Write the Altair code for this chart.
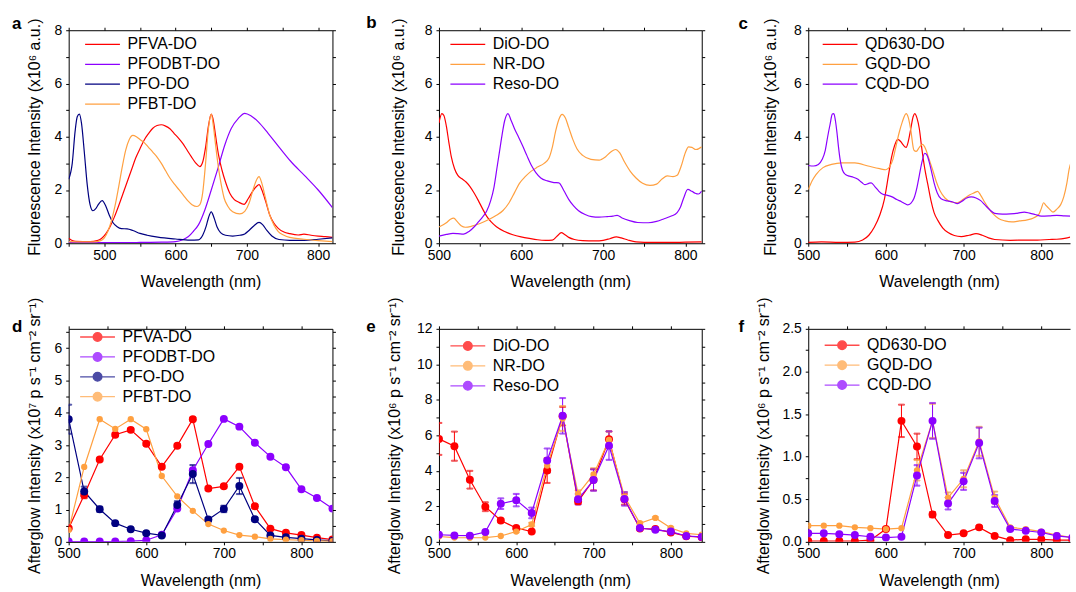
import altair as alt
import pandas as pd

FONT = "Liberation Sans"
RED = "#FF0000"
PURPLE = "#8C00FF"
NAVY = "#000080"
ORANGE = "#FFA040"

# ---------------- panel a : fluorescence spectra ----------------
a_names = ["PFVA-DO", "PFODBT-DO", "PFO-DO", "PFBT-DO"]
a_pfva_wl = [450, 455, 460, 480, 490, 496, 502, 508, 514, 520, 526, 532, 538, 544, 550, 556, 562, 568, 574, 580,
             586, 592, 598, 604, 610, 616, 622, 628, 634, 638, 642, 646, 650, 653, 656, 660, 665, 670, 676, 682,
             688, 696, 702, 708, 713, 717, 721, 726, 732, 738, 744, 752, 760, 772, 780, 790, 800, 810, 820]
a_pfva_v = [0.19, 0.10, 0.07, 0.06, 0.10, 0.18, 0.35, 0.62, 0.98, 1.40, 1.85, 2.30, 2.75, 3.20, 3.55, 3.88, 4.12, 4.32, 4.42, 4.45,
            4.40, 4.30, 4.12, 3.95, 3.75, 3.50, 3.25, 3.02, 2.88, 3.05, 3.60, 4.40, 4.85, 4.60, 4.05, 3.35, 2.75, 2.30, 1.88, 1.65,
            1.55, 1.46, 1.68, 1.95, 2.12, 2.20, 2.00, 1.60, 1.06, 0.75, 0.56, 0.42, 0.36, 0.31, 0.34, 0.30, 0.27, 0.25, 0.22]
a_pfodbt_wl = [450, 500, 550, 580, 600, 610, 618, 625, 632, 641, 650, 660, 669, 678, 688, 697, 706, 716, 730, 744,
               762, 781, 800, 820]
a_pfodbt_v = [0.03, 0.02, 0.03, 0.04, 0.06, 0.13, 0.25, 0.45, 0.69, 1.25, 2.00, 2.87, 3.69, 4.31, 4.69, 4.88, 4.78, 4.56, 4.12, 3.65,
              3.06, 2.54, 2.00, 1.34]
a_pfo_wl = [450, 455, 459, 462, 465, 468, 472, 476, 480, 484, 488, 492, 497, 502, 507, 512, 518, 524, 532, 540,
            550, 560, 575, 600, 620, 632, 638, 643, 646, 650, 654, 658, 663, 670, 680, 690, 697, 703, 710, 717,
            722, 728, 735, 745, 760, 780, 800, 820]
a_pfo_v = [2.40, 3.00, 4.20, 4.75, 4.85, 4.50, 3.40, 2.20, 1.45, 1.22, 1.30, 1.47, 1.60, 1.40, 1.05, 0.78, 0.62, 0.55, 0.54, 0.48,
           0.37, 0.30, 0.23, 0.16, 0.12, 0.13, 0.30, 0.65, 0.95, 1.18, 0.95, 0.62, 0.40, 0.30, 0.27, 0.30, 0.35, 0.48, 0.66, 0.78,
           0.70, 0.48, 0.27, 0.14, 0.11, 0.11, 0.15, 0.20]
a_pfbt_wl = [450, 470, 485, 495, 500, 505, 510, 515, 520, 525, 530, 535, 540, 545, 550, 556, 562, 568, 575, 580,
             586, 592, 599, 605, 611, 617, 623, 630, 634, 638, 642, 646, 650, 653, 656, 660, 664, 668, 673, 680,
             690, 697, 703, 708, 713, 717, 721, 726, 732, 738, 744, 752, 760, 780, 800, 820]
a_pfbt_v = [0.06, 0.05, 0.05, 0.10, 0.20, 0.45, 0.85, 1.40, 2.10, 2.85, 3.50, 3.90, 4.05, 4.00, 3.90, 3.78, 3.60, 3.42, 3.20, 3.00,
            2.72, 2.45, 2.20, 2.00, 1.80, 1.60, 1.45, 1.38, 1.45, 1.90, 3.00, 4.30, 4.85, 4.40, 3.70, 2.85, 2.20, 1.70, 1.40, 1.18,
            1.10, 1.20, 1.50, 1.95, 2.35, 2.50, 2.25, 1.70, 1.06, 0.68, 0.44, 0.30, 0.22, 0.15, 0.10, 0.06]

# ---------------- panel b ----------------
b_names = ["DiO-DO", "NR-DO", "Reso-DO"]
b_dio_wl = [500, 503.5, 506, 509, 512, 515, 519, 523, 528, 533, 538, 543, 548, 553, 558, 563, 570, 580, 590, 600,
            610, 620, 630, 638, 644, 649, 653, 658, 665, 675, 690, 700, 708, 716, 722, 730, 740, 760, 780, 800, 820]
b_dio_v = [4.52, 4.87, 4.80, 4.40, 3.80, 3.25, 2.80, 2.55, 2.42, 2.30, 2.12, 1.88, 1.60, 1.30, 1.02, 0.82, 0.62, 0.44, 0.32, 0.24,
           0.18, 0.13, 0.11, 0.12, 0.27, 0.40, 0.33, 0.22, 0.14, 0.10, 0.09, 0.11, 0.17, 0.24, 0.20, 0.12, 0.05, 0.03, 0.03, 0.04, 0.05]
b_nr_wl = [500, 509, 514, 518, 522, 527, 532, 540, 550, 560, 570, 578, 585, 592, 598, 605, 612, 620, 628, 634,
           638, 642, 646, 650, 654, 658, 663, 668, 675, 685, 695, 703, 710, 715, 720, 726, 733, 740, 748, 757,
           765, 772, 778, 785, 790, 795, 800, 804, 808, 813, 820]
b_nr_v = [0.61, 0.77, 0.90, 0.94, 0.82, 0.66, 0.60, 0.64, 0.74, 0.88, 1.05, 1.23, 1.50, 1.90, 2.25, 2.50, 2.70, 2.86, 3.00, 3.20,
          3.60, 4.20, 4.65, 4.84, 4.70, 4.35, 3.90, 3.55, 3.30, 3.15, 3.12, 3.25, 3.45, 3.52, 3.40, 3.05, 2.70, 2.45, 2.25, 2.17,
          2.22, 2.42, 2.53, 2.50, 2.55, 2.90, 3.40, 3.62, 3.60, 3.52, 3.62]
b_reso_wl = [500, 509, 517, 523, 530, 537, 543, 548, 553, 558, 563, 567, 571, 574, 577, 580, 584, 588, 592, 597,
             602, 607, 613, 618, 624, 632, 640, 646, 652, 658, 664, 670, 678, 686, 695, 705, 712, 717, 723, 732,
             742, 755, 765, 775, 783, 790, 794, 798, 803, 808, 812, 816, 820]
b_reso_v = [0.27, 0.33, 0.37, 0.36, 0.34, 0.45, 0.62, 0.80, 0.98, 1.20, 1.60, 2.10, 2.90, 3.50, 4.10, 4.60, 4.87, 4.60, 4.30, 3.98,
            3.65, 3.30, 2.90, 2.65, 2.45, 2.34, 2.28, 2.27, 1.98, 1.65, 1.40, 1.22, 1.08, 1.00, 0.98, 1.00, 1.02, 1.05, 0.95, 0.85,
            0.78, 0.77, 0.82, 0.93, 1.02, 1.15, 1.35, 1.70, 2.02, 1.95, 1.88, 1.85, 1.96]

# ---------------- panel c ----------------
c_names = ["QD630-DO", "GQD-DO", "CQD-DO"]
c_qd_wl = [500, 517, 540, 560, 570, 578, 585, 592, 598, 603, 607, 611, 615, 619, 622, 626, 629, 632, 635, 637,
           640, 643, 646, 650, 654, 658, 662, 667, 673, 680, 688, 697, 707, 716, 724, 732, 740, 760, 780, 795,
           810, 820, 830, 840]
c_qd_v = [0.03, 0.05, 0.03, 0.04, 0.12, 0.30, 0.60, 1.05, 1.65, 2.50, 3.20, 3.65, 3.90, 3.82, 3.70, 3.60, 3.85, 4.30, 4.75, 4.87,
          4.70, 4.30, 3.60, 2.80, 2.20, 1.60, 1.15, 0.85, 0.58, 0.40, 0.29, 0.25, 0.30, 0.36, 0.30, 0.20, 0.14, 0.11, 0.12, 0.12,
          0.14, 0.15, 0.18, 0.25]
c_gqd_wl = [500, 505, 510, 519, 530, 543, 560, 577, 592, 600, 605, 609, 613, 617, 621, 626, 629, 632, 636, 639,
            643, 647, 651, 655, 660, 665, 670, 676, 684, 692, 700, 708, 714, 718, 722, 727, 732, 738, 745, 753,
            762, 772, 782, 790, 797, 800, 803, 806, 810, 815, 820, 825, 829, 833, 836, 840]
c_gqd_v = [2.02, 2.35, 2.58, 2.84, 2.96, 3.02, 3.02, 2.90, 2.80, 2.76, 2.88, 3.15, 3.65, 4.15, 4.55, 4.87, 4.70, 4.25, 3.50, 3.45,
           3.60, 3.71, 3.55, 3.20, 2.77, 2.30, 1.95, 1.70, 1.55, 1.52, 1.66, 1.82, 1.90, 1.95, 1.80, 1.55, 1.32, 1.10, 0.93, 0.84,
           0.80, 0.84, 0.88, 0.95, 1.09, 1.30, 1.52, 1.42, 1.30, 1.17, 1.28, 1.45, 1.75, 2.27, 2.80, 3.15]
c_cqd_wl = [500, 507, 513, 518, 522, 525, 528, 531, 533, 535, 537, 539, 541, 544, 548, 553, 558, 564, 569, 573,
            578, 581, 586, 591, 596, 602, 608, 614, 620, 625, 628, 632, 636, 640, 643, 646, 650, 653, 656, 659,
            662, 666, 671, 679, 686, 692, 698, 704, 710, 716, 722, 728, 734, 740, 750, 760, 770, 778, 785, 792,
            800, 810, 820, 830, 840]
c_cqd_v = [2.92, 2.90, 2.96, 3.15, 3.50, 4.00, 4.45, 4.85, 4.87, 4.60, 4.15, 3.60, 3.15, 2.75, 2.58, 2.52, 2.48, 2.40, 2.28, 2.20,
           2.25, 2.27, 2.12, 1.95, 1.84, 1.80, 1.74, 1.64, 1.56, 1.48, 1.44, 1.50, 1.68, 2.10, 2.55, 3.00, 3.38, 3.30, 3.02, 2.65,
           2.27, 1.90, 1.67, 1.59, 1.55, 1.49, 1.58, 1.70, 1.74, 1.70, 1.60, 1.42, 1.25, 1.12, 1.09, 1.10, 1.13, 1.17, 1.13, 1.08,
           1.02, 1.03, 1.05, 1.03, 1.02]

# ---------------- panels d-f : afterglow ----------------
ag_wl = [500, 520, 540, 560, 580, 600, 620, 640, 660, 680, 700, 720, 740, 760, 780, 800, 820, 840]

d_names = ["PFVA-DO", "PFODBT-DO", "PFO-DO", "PFBT-DO"]
d_pfva = [0.42, 1.45, 2.55, 3.32, 3.47, 3.04, 2.33, 2.98, 3.80, 1.65, 1.72, 2.33, 1.10, 0.41, 0.28, 0.21, 0.13, 0.07]
d_pfva_err = [0.04, 0.10, 0.05, 0.05, 0.05, 0.05, 0.05, 0.05, 0.05, 0.05, 0.05, 0.05, 0.05, 0.02, 0.02, 0.01, 0.01, 0.0]
d_pfodbt = [0.01, 0.01, 0.01, 0.01, 0.02, 0.05, 0.22, 1.03, 2.22, 3.03, 3.81, 3.57, 3.07, 2.64, 2.31, 1.63, 1.36, 1.03]
d_pfodbt_err = [0.0] * 18
d_pfo = [3.80, 1.56, 1.01, 0.58, 0.39, 0.27, 0.20, 1.14, 2.10, 0.69, 1.02, 1.73, 0.70, 0.20, 0.14, 0.10, 0.06, 0.03]
d_pfo_err = [0.45, 0.15, 0.08, 0.03, 0.03, 0.02, 0.02, 0.12, 0.28, 0.06, 0.10, 0.25, 0.05, 0.0, 0.0, 0.0, 0.0, 0.0]
d_pfbt = [0.37, 2.32, 3.80, 3.50, 3.80, 3.49, 2.04, 1.41, 0.96, 0.55, 0.35, 0.21, 0.16, 0.09, 0.07, 0.05, 0.03, 0.02]
d_pfbt_err = [0.0] * 18

e_names = ["DiO-DO", "NR-DO", "Reso-DO"]
e_dio = [5.80, 5.39, 3.50, 1.98, 1.20, 0.78, 0.58, 4.02, 7.08, 2.28, 3.50, 5.78, 2.40, 0.75, 0.72, 0.53, 0.32, 0.26]
e_dio_err = [0.90, 0.82, 0.50, 0.25, 0.10, 0.08, 0.05, 0.70, 0.52, 0.15, 0.60, 0.45, 0.30, 0.05, 0.05, 0.05, 0.03, 0.0]
e_nr = [0.30, 0.24, 0.23, 0.24, 0.33, 0.58, 0.98, 4.30, 6.95, 2.70, 3.80, 5.75, 2.55, 1.05, 1.35, 0.78, 0.48, 0.40]
e_nr_err = [0.0, 0.0, 0.0, 0.0, 0.0, 0.05, 0.10, 0.40, 0.70, 0.20, 0.35, 0.45, 0.25, 0.05, 0.05, 0.05, 0.0, 0.0]
e_reso = [0.40, 0.36, 0.35, 0.55, 2.15, 2.35, 1.63, 4.58, 7.10, 2.40, 3.48, 5.42, 2.42, 0.78, 0.68, 0.58, 0.33, 0.28]
e_reso_err = [0.05, 0.05, 0.05, 0.05, 0.30, 0.35, 0.30, 0.68, 1.00, 0.30, 0.60, 0.80, 0.38, 0.05, 0.05, 0.05, 0.03, 0.0]

f_names = ["QD630-DO", "GQD-DO", "CQD-DO"]
f_qd = [0.01, 0.01, 0.01, 0.01, 0.02, 0.15, 1.42, 1.12, 0.32, 0.08, 0.10, 0.17, 0.07, 0.02, 0.03, 0.03, 0.02, 0.02]
f_qd_err = [0.0, 0.0, 0.0, 0.0, 0.0, 0.02, 0.19, 0.15, 0.03, 0.01, 0.01, 0.02, 0.01, 0.0, 0.0, 0.0, 0.0, 0.0]
f_gqd = [0.19, 0.19, 0.19, 0.17, 0.16, 0.15, 0.16, 0.84, 1.42, 0.52, 0.74, 1.18, 0.52, 0.17, 0.15, 0.12, 0.08, 0.05]
f_gqd_err = [0.0, 0.0, 0.0, 0.0, 0.0, 0.0, 0.0, 0.12, 0.20, 0.06, 0.10, 0.17, 0.07, 0.01, 0.0, 0.0, 0.0, 0.0]
f_cqd = [0.10, 0.10, 0.09, 0.08, 0.06, 0.05, 0.06, 0.78, 1.42, 0.45, 0.71, 1.16, 0.48, 0.15, 0.13, 0.11, 0.07, 0.05]
f_cqd_err = [0.0, 0.0, 0.0, 0.0, 0.0, 0.0, 0.0, 0.12, 0.21, 0.07, 0.10, 0.18, 0.07, 0.01, 0.0, 0.0, 0.0, 0.0]

Y_FL = "Fluorescence Intensity (x10\u2076 a.u.)"
Y_AG7 = "Afterglow Intensity (x10\u2077 p s\u207b\u00b9 cm\u207b\u00b2 sr\u207b\u00b9)"
Y_AG6 = "Afterglow Intensity (x10\u2076 p s\u207b\u00b9 cm\u207b\u00b2 sr\u207b\u00b9)"
X_T = "Wavelength (nm)"

# legend symbols: a 35 px line (path spans +-2 units, symbol box 17.5 px)
SYM_SIZE = 306
LINE_PATH = "M-2,0L2,0"
LINE_DOT_PATH = "M-2,0L2,0M-0.5,0A0.5,0.5,0,1,0,0.5,0A0.5,0.5,0,1,0,-0.5,0Z"


def frange(a, b, s):
    out = []
    k = 0
    while a + k * s <= b + 1e-9:
        out.append(round(a + k * s, 4))
        k += 1
    return out


def common_axes(xdom, xticks, ydom, yticks, ylab_expr, ytitle, ytitle_x, xtitle_y):
    xs = alt.Scale(domain=xdom, nice=False, zero=False)
    ys = alt.Scale(domain=ydom, nice=False, zero=False)
    xa = alt.Axis(values=xticks, labelExpr="datum.value % 100 == 0 ? format(datum.value, 'd') : ''",
                  title=X_T, titleY=xtitle_y, orient="bottom")
    ya = alt.Axis(values=yticks, labelExpr=ylab_expr, title=ytitle, titleX=ytitle_x, orient="left")
    return xs, ys, xa, ya


def ghost_layer(df, xs, ys, xticks, yticks, right):
    return alt.Chart(df).mark_point(opacity=0).encode(
        x=alt.X("wl:Q", scale=xs, axis=alt.Axis(orient="top", values=xticks, labels=False, title=None)),
        y=alt.Y("v:Q", scale=ys,
                axis=alt.Axis(orient="right", values=yticks, labels=False, title=None) if right else None),
    )


def letter_layer(letter, dx, dy):
    return alt.Chart(pd.DataFrame({"t": [letter]})).mark_text(
        align="left", baseline="alphabetic", fontSize=17, fontWeight="bold", font=FONT, color="black"
    ).encode(text="t:N", x=alt.value(dx), y=alt.value(dy))


def make_legend(path, lx, ly):
    return alt.Legend(title=None, orient="none", legendX=lx, legendY=ly, symbolType=path,
                      symbolSize=SYM_SIZE, symbolStrokeWidth=1.3, labelFontSize=16, labelFont=FONT,
                      labelColor="black", labelOffset=15.5, padding=0, rowPadding=2)


def spec_panel(letter, names, colors, wls, vals, xdom, xticks, ydom, yticks, ylab_expr, ytitle,
               ytitle_x, width, right, leg_x, leg_y, letter_dx, letter_dy):
    rows = []
    for n, w, v in zip(names, wls, vals):
        for a, b in zip(w, v):
            rows.append({"s": n, "wl": a, "v": b})
    df = pd.DataFrame(rows)
    xs, ys, xa, ya = common_axes(xdom, xticks, ydom, yticks, ylab_expr, ytitle, ytitle_x, 30)
    sc = alt.Scale(domain=names, range=colors)
    leg = make_legend(LINE_PATH, leg_x, leg_y)
    line = alt.Chart(df).mark_line(strokeWidth=1.2, interpolate="monotone", clip=True).encode(
        x=alt.X("wl:Q", scale=xs, axis=xa),
        y=alt.Y("v:Q", scale=ys, axis=ya),
        stroke=alt.Stroke("s:N", scale=sc, legend=leg, sort=names),
    )
    g = ghost_layer(df, xs, ys, xticks, yticks, right)
    return alt.layer(line, g, letter_layer(letter, letter_dx, letter_dy)).resolve_axis(
        x="independent", y="independent").properties(width=width, height=214)


def ag_panel(letter, names, colors, sizes, vals, errs, xdom, xticks, ydom, yticks, ylab_expr, ytitle,
             ytitle_x, width, right, leg_x, leg_y, letter_dx, letter_dy):
    rows = []
    for n, v, e, sz in zip(names, vals, errs, sizes):
        for a, b, c in zip(ag_wl, v, e):
            rows.append({"s": n, "wl": a, "v": b, "lo": b - c, "hi": b + c, "err": c, "sz": sz})
    df = pd.DataFrame(rows)
    dfe = df[df["err"] > 0]
    xs, ys, xa, ya = common_axes(xdom, xticks, ydom, yticks, ylab_expr, ytitle, ytitle_x, 31)
    sc = alt.Scale(domain=names, range=colors)
    leg = make_legend(LINE_DOT_PATH, leg_x, leg_y)
    strk = alt.Stroke("s:N", scale=sc, legend=leg, sort=names)
    line = alt.Chart(df).mark_line(strokeWidth=1.2, clip=True).encode(
        x=alt.X("wl:Q", scale=xs, axis=xa),
        y=alt.Y("v:Q", scale=ys, axis=ya),
        stroke=strk,
    )
    bar = alt.Chart(dfe).mark_rule(strokeWidth=1, clip=True).encode(
        x=alt.X("wl:Q", scale=xs, axis=None),
        y=alt.Y("lo:Q", scale=ys, axis=None), y2="hi:Q",
        stroke=strk,
    )
    cap_lo = alt.Chart(dfe).mark_tick(orient="horizontal", size=6, thickness=1, clip=True).encode(
        x=alt.X("wl:Q", scale=xs, axis=None),
        y=alt.Y("lo:Q", scale=ys, axis=None),
        stroke=strk,
    )
    cap_hi = alt.Chart(dfe).mark_tick(orient="horizontal", size=6, thickness=1, clip=True).encode(
        x=alt.X("wl:Q", scale=xs, axis=None),
        y=alt.Y("hi:Q", scale=ys, axis=None),
        stroke=strk,
    )
    pts = alt.Chart(df).mark_point(filled=True, opacity=1, clip=True).encode(
        x=alt.X("wl:Q", scale=xs, axis=None),
        y=alt.Y("v:Q", scale=ys, axis=None),
        fill=alt.Fill("s:N", scale=sc, legend=leg, sort=names),
        size=alt.Size("sz:Q", scale=None, legend=None),
    )
    g = ghost_layer(df, xs, ys, xticks, yticks, right)
    return alt.layer(bar, cap_lo, cap_hi, line, pts, g, letter_layer(letter, letter_dx, letter_dy)).resolve_axis(
        x="independent", y="independent").properties(width=width, height=214)


EVEN = "datum.value % 2 == 0 ? format(datum.value, 'd') : ''"
INT = "datum.value % 1 == 0 ? format(datum.value, 'd') : ''"
HALF = "(datum.value * 2) % 1 == 0 ? format(datum.value, '.1f') : ''"

pa = spec_panel("a", a_names, [RED, PURPLE, NAVY, ORANGE],
                [a_pfva_wl, a_pfodbt_wl, a_pfo_wl, a_pfbt_wl], [a_pfva_v, a_pfodbt_v, a_pfo_v, a_pfbt_v],
                [450, 820], frange(450, 800, 50), [0, 8], frange(0, 8, 1), EVEN, Y_FL, -26, 265, True,
                24.5, 4.7, -57, -1.5)
pb = spec_panel("b", b_names, [RED, ORANGE, PURPLE],
                [b_dio_wl, b_nr_wl, b_reso_wl], [b_dio_v, b_nr_v, b_reso_v],
                [500, 820], frange(500, 800, 50), [0, 8], frange(0, 8, 1), EVEN, Y_FL, -33, 264, True,
                19.5, 4.7, -73, -2)
pc = spec_panel("c", c_names, [RED, ORANGE, PURPLE],
                [c_qd_wl, c_gqd_wl, c_cqd_wl], [c_qd_v, c_gqd_v, c_cqd_v],
                [500, 837], frange(500, 800, 50), [0, 8], frange(0, 8, 1), EVEN, Y_FL, -30, 263, False,
                22.5, 4.7, -70, -1.5)

pd_ = ag_panel("d", d_names, [RED, PURPLE, NAVY, ORANGE], [64, 64, 64, 40],
               [d_pfva, d_pfodbt, d_pfo, d_pfbt], [d_pfva_err, d_pfodbt_err, d_pfo_err, d_pfbt_err],
               [500, 840], frange(500, 800, 50), [0, 6.6], frange(0, 6.5, 0.5), INT, Y_AG7, -26, 265, True,
               19.5, -1.3, -57, 3.5)
pe = ag_panel("e", e_names, [RED, ORANGE, PURPLE], [64, 40, 64],
              [e_dio, e_nr, e_reso], [e_dio_err, e_nr_err, e_reso_err],
              [500, 840], frange(500, 800, 50), [0, 12], frange(0, 12, 1), EVEN, Y_AG6, -37, 264, True,
              19.5, 7.7, -73, 3.5)
pf = ag_panel("f", f_names, [RED, ORANGE, PURPLE], [64, 40, 64],
              [f_qd, f_gqd, f_cqd], [f_qd_err, f_gqd_err, f_cqd_err],
              [500, 837], frange(500, 800, 50), [0, 2.5], frange(0, 2.5, 0.25), HALF, Y_AG6, -37, 263, False,
              24.5, 7, -70, 3.5)

RS = dict(x="independent", y="independent", stroke="independent", fill="independent", size="independent")
RL = dict(stroke="independent", fill="independent")

chart = alt.concat(pa, pb, pc, pd_, pe, pf, columns=3, spacing={"row": 86, "column": 107},
                   bounds="flush").resolve_scale(**RS).resolve_legend(**RL).properties(
    padding={"left": 12, "top": 13, "right": 0, "bottom": 0}, background="white"
).configure_view(stroke=None).configure_axis(
    domain=True, domainColor="black", domainWidth=1, tickColor="black", tickWidth=1, tickSize=3,
    grid=False, labelFont=FONT, labelFontSize=14, labelColor="black", labelPadding=2, labelFlush=False,
    labelOverlap=False,
    titleFont=FONT, titleFontSize=16, titleColor="black", titleFontWeight="normal",
).configure_axisLeft(labelPadding=4)

chart.save("out.html", embed_options={"renderer": "svg", "actions": False})
